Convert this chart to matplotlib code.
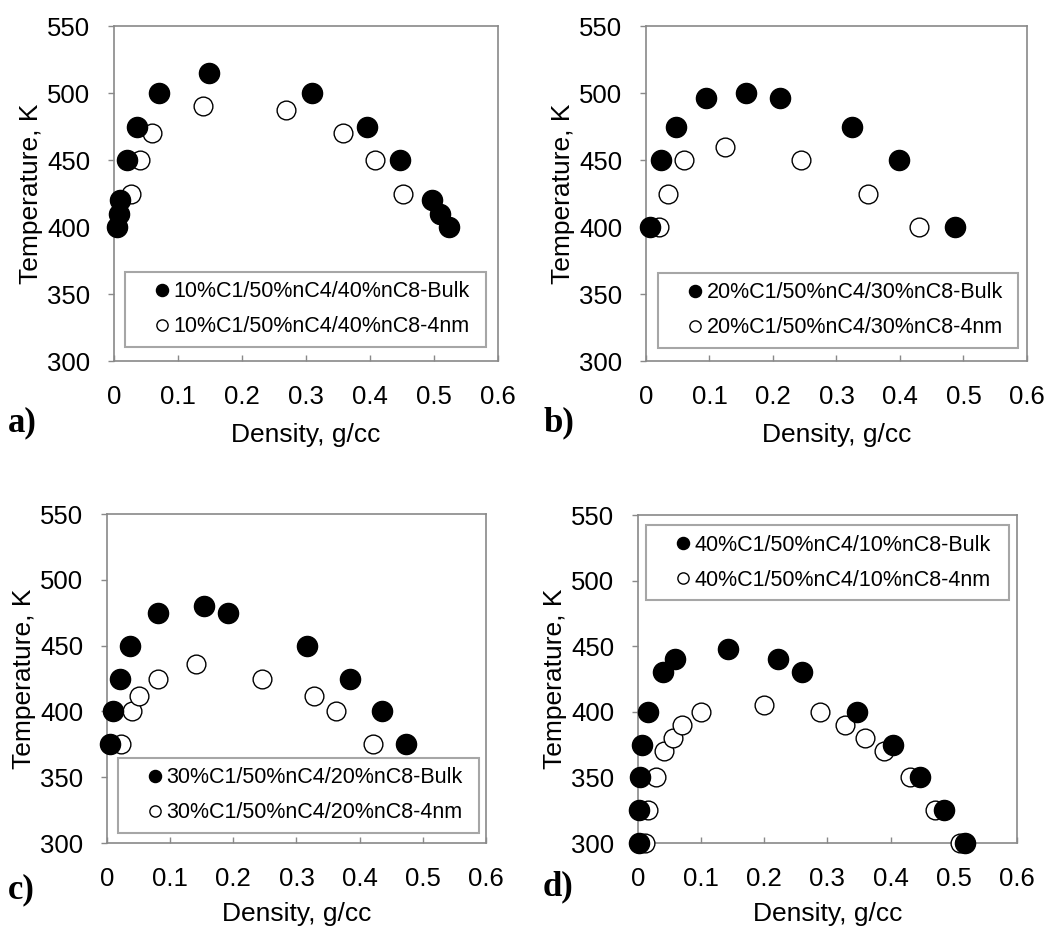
import matplotlib
matplotlib.use("Agg")
import matplotlib.pyplot as plt

plt.rcParams["font.family"] = ["Liberation Sans", "DejaVu Sans"]

# panel a) 10%C1/50%nC4/40%nC8
a_bulk_x = [0.005, 0.007, 0.010, 0.021, 0.036, 0.070, 0.148, 0.309, 0.396, 0.447, 0.496, 0.510, 0.523]
a_bulk_y = [400, 410, 420, 450, 475, 500, 515, 500, 475, 450, 420, 410, 400]
a_nm_x = [0.026, 0.041, 0.059, 0.139, 0.268, 0.358, 0.408, 0.452]
a_nm_y = [425, 450, 470, 490, 487, 470, 450, 425]

# panel b) 20%C1/50%nC4/30%nC8
b_bulk_x = [0.006, 0.024, 0.047, 0.094, 0.158, 0.211, 0.324, 0.398, 0.487]
b_bulk_y = [400, 450, 475, 496, 500, 496, 475, 450, 400]
b_nm_x = [0.020, 0.035, 0.060, 0.125, 0.244, 0.349, 0.430]
b_nm_y = [400, 425, 450, 460, 450, 425, 400]

# panel c) 30%C1/50%nC4/20%nC8
c_bulk_x = [0.005, 0.010, 0.020, 0.037, 0.081, 0.153, 0.192, 0.316, 0.384, 0.436, 0.473]
c_bulk_y = [375, 400, 425, 450, 475, 480, 475, 450, 425, 400, 375]
c_nm_x = [0.022, 0.040, 0.051, 0.081, 0.141, 0.246, 0.328, 0.363, 0.421]
c_nm_y = [375, 400, 412, 425, 436, 425, 412, 400, 375]

# panel d) 40%C1/50%nC4/10%nC8
d_bulk_x = [0.001, 0.001, 0.003, 0.007, 0.016, 0.040, 0.059, 0.143, 0.222, 0.260,
            0.347, 0.404, 0.447, 0.485, 0.518]
d_bulk_y = [300, 325, 350, 375, 400, 430, 440, 448, 440, 430, 400, 375, 350, 325, 300]
d_nm_x = [0.011, 0.016, 0.028, 0.042, 0.055, 0.070, 0.100, 0.200, 0.289, 0.328,
          0.360, 0.390, 0.431, 0.470, 0.510]
d_nm_y = [300, 325, 350, 370, 380, 390, 400, 405, 400, 390, 380, 370, 350, 325, 300]

x_ticks = [0, 0.1, 0.2, 0.3, 0.4, 0.5, 0.6]
x_tick_labels = ["0", "0.1", "0.2", "0.3", "0.4", "0.5", "0.6"]
y_ticks = [300, 350, 400, 450, 500, 550]

panels = [
    ("a)", "10%C1/50%nC4/40%nC8", a_bulk_x, a_bulk_y, a_nm_x, a_nm_y),
    ("b)", "20%C1/50%nC4/30%nC8", b_bulk_x, b_bulk_y, b_nm_x, b_nm_y),
    ("c)", "30%C1/50%nC4/20%nC8", c_bulk_x, c_bulk_y, c_nm_x, c_nm_y),
    ("d)", "40%C1/50%nC4/10%nC8", d_bulk_x, d_bulk_y, d_nm_x, d_nm_y),
]

rects = [
    [0.1081, 0.6118, 0.3640, 0.3602],
    [0.6123, 0.6118, 0.3611, 0.3602],
    [0.1014, 0.0935, 0.3592, 0.3538],
    [0.6047, 0.0935, 0.3592, 0.3527],
]
legend_boxes = [
    ("lower left", (0.029, 0.042, 0.940, 0.2)),
    ("lower left", (0.032, 0.039, 0.945, 0.2)),
    ("lower left", (0.029, 0.030, 0.953, 0.2)),
    ("upper left", (0.021, 0.770, 0.958, 0.2)),
]
panel_label_pos = [(8, 431), (543, 431), (8, 898), (543, 895)]
xlabel_pads = [10, 10, 8, 8]

W, H = 1055, 930
fig = plt.figure(figsize=(W / 100, H / 100), dpi=100)
spine_col = "#898989"

for (tag, mix, bx, by, nx, ny), rect, (loc, bb), (lx, ly), xpad in zip(
        panels, rects, legend_boxes, panel_label_pos, xlabel_pads):
    ax = fig.add_axes(rect)
    ax.plot(nx, ny, "o", ms=13.5, mfc="white", mec="black", mew=1.0,
            clip_on=False, zorder=3, label=f"{mix}-4nm")
    ax.plot(bx, by, "o", ms=14.5, mfc="black", mec="black", mew=1.0,
            clip_on=False, zorder=4, label=f"{mix}-Bulk")

    ax.set_xlim(0, 0.6)
    ax.set_ylim(300, 550)
    ax.set_xticks(x_ticks)
    ax.set_xticklabels(x_tick_labels)
    ax.set_yticks(y_ticks)
    for s in ax.spines.values():
        s.set_color(spine_col)
        s.set_linewidth(1.2)
    ax.tick_params(axis="x", direction="in", length=4, width=1, color=spine_col,
                   labelsize=18.5, pad=17)
    ax.tick_params(axis="y", direction="out", length=4, width=1, color=spine_col,
                   labelsize=18.5, pad=13)
    ax.set_xlabel("Density, g/cc", fontsize=19, labelpad=xpad)
    ax.set_ylabel("Temperature, K", fontsize=19, labelpad=3)

    handles, labels = ax.get_legend_handles_labels()
    leg = ax.legend(handles[::-1], labels[::-1], loc=loc, bbox_to_anchor=bb,
                    mode="expand", borderaxespad=0, fontsize=15.5, markerscale=0.6,
                    numpoints=1, handlelength=2.5, handletextpad=-0.7,
                    borderpad=0.45, labelspacing=0.65, fancybox=False,
                    framealpha=1, edgecolor="#a6a6a6")
    leg.get_frame().set_linewidth(1.5)

    fig.text(lx / W, 1 - ly / H, tag, fontsize=25, fontweight="bold",
             family=["Liberation Serif", "DejaVu Serif"], va="baseline", ha="left")

fig.savefig("out.png", dpi=100)
